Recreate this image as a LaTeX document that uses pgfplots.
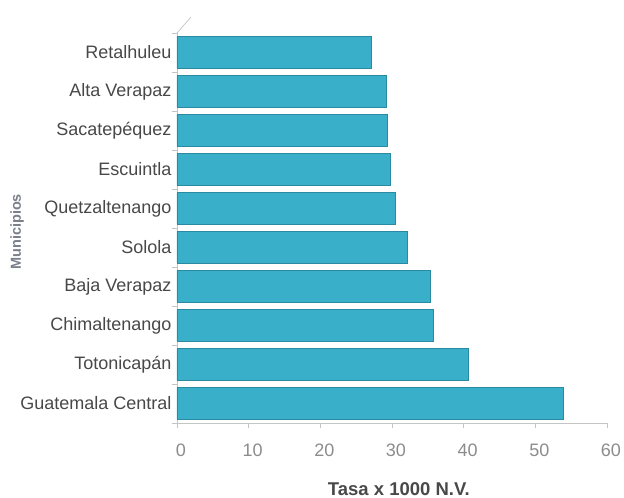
\documentclass[border=0pt]{standalone}
\usepackage{fontspec}
\setmainfont{Liberation Sans}
\usepackage{pgfplots}
\pgfplotsset{compat=1.18}
\definecolor{barfill}{HTML}{3AAFCA}
\definecolor{baredge}{HTML}{2A8AA2}
\definecolor{axgray}{HTML}{C4C4C4}
\definecolor{lblgray}{HTML}{484848}
\definecolor{tickgray}{HTML}{8C8C8C}
\definecolor{munigray}{HTML}{7A7F8A}
\begin{document}
\begin{tikzpicture}
\path[use as bounding box] (-177bp,-75bp) rectangle (447bp,423bp);
\begin{axis}[
  at={(0,0)}, anchor=south west,
  scale only axis, width=430bp, height=390bp,
  xmin=0, xmax=60, ymin=-0.5, ymax=9.5,
  xtick={0,10,...,60},
  ytick={0,...,9},
  yticklabels={Guatemala Central,Totonicapán,Chimaltenango,Baja Verapaz,Solola,Quetzaltenango,Escuintla,Sacatepéquez,Alta Verapaz,Retalhuleu},
  minor ytick={-0.5,0.5,...,9.5},
  axis x line*=bottom, axis y line*=left,
  axis line style={draw=axgray, line width=0.7pt},
  tick align=outside,
  major tick length=5bp, minor tick length=5bp,
  every tick/.style={draw=axgray, line width=0.6pt},
  every major y tick/.append style={draw=none},
  /pgf/number format/assume math mode=true,
  xticklabel style={font=\fontsize{18bp}{20bp}\selectfont, text=tickgray, yshift=-12bp, xshift=4bp},
  yticklabel style={font=\fontsize{18bp}{20bp}\selectfont, text=lblgray, xshift=3bp},
  xlabel={Tasa x 1000 N.V.},
  ylabel={Municipios},
  every axis x label/.style={at={(axis description cs:0.516,-0.169)}, anchor=center, font=\bfseries\fontsize{18.5bp}{20bp}\selectfont, text=lblgray},
  every axis y label/.style={at={(axis description cs:-0.372,0.49)}, anchor=center, rotate=90, font=\bfseries\fontsize{14.5bp}{16bp}\selectfont, text=munigray},
  clip=false,
]
\addplot[xbar, bar width=32bp, draw=baredge, line width=0.6pt, fill=barfill]
  coordinates {(53.9,0) (40.6,1) (35.8,2) (35.3,3) (32.1,4) (30.5,5) (29.8,6) (29.3,7) (29.2,8) (27.1,9)};
\end{axis}
\draw[axgray, line width=0.7pt] (0,390bp) -- (14bp,406bp);
\end{tikzpicture}
\end{document}
